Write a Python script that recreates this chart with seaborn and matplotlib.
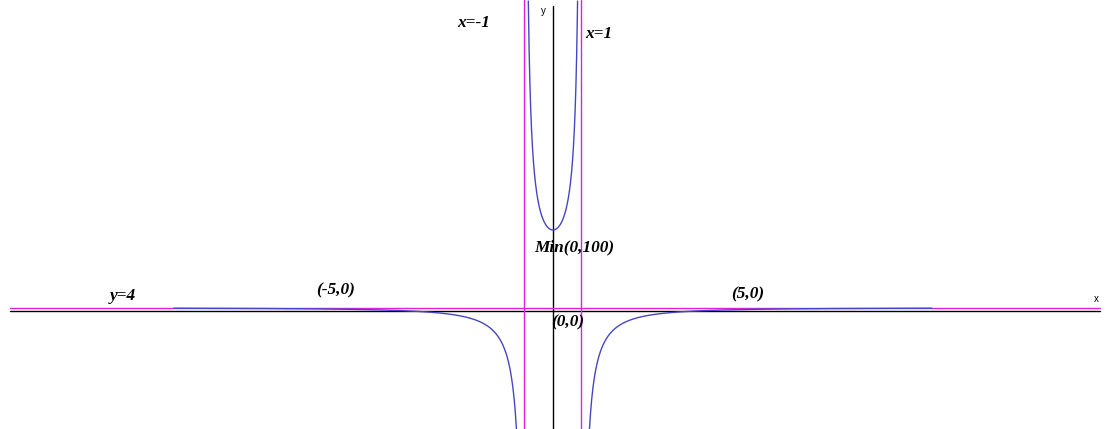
"""
Graph of f(x) = (4x^2 - 100) / (x^2 - 1) with its asymptotes and key points.
"""
import numpy as np
import pandas as pd
import matplotlib
matplotlib.use("Agg")
import matplotlib.pyplot as plt
import seaborn as sns

# Rational function: zeros at +-5, asymptotes x=+-1, y=4
num_coef = [4, 0, -100]
den_coef = [1, 0, -1]

# Asymptotes
vert_asym = [-1, 1]
horiz_asym = [4]

# Plotted domain of each branch (where the curve leaves the window)
branch_ranges = [(-13.3, -1.28), (-0.864, 0.864), (1.28, 13.3)]

# Labels: text, x, y (data units)
label_text = ['x=-1', 'x=1', 'Min(0,100)', '(0,0)', 'y=4', '(-5,0)', '(5,0)']
label_x = [-3.35, 1.12, -0.65, -0.05, -15.55, -8.3, 6.25]
label_y = [355, 342, 78, -14, 18, 25, 21]

xlim = (-19.40, 19.58)
ylim = (-145.7, 384.0)

curve_color = '#4646c4'
asym_color = '#e020e0'

sns.set_theme(style='white')
plt.rcParams['font.family'] = ['Liberation Serif', 'DejaVu Serif']

fig = plt.figure(figsize=(11.11, 4.29), dpi=100)
ax = fig.add_axes([0, 0, 1, 1])
ax.set_xlim(*xlim)
ax.set_ylim(*ylim)
ax.axis('off')

# axes lines
ax.plot([-19.05, 19.2], [0, 0], color='black', lw=1.0, zorder=2)
ax.plot([0, 0], [ylim[0], 376], color='black', lw=1.0, zorder=2)
ax.text(-0.35, 370, 'y', family='Liberation Sans', fontsize=7, color='black',
        ha='center', va='center')
ax.text(19.05, 15, 'x', family='Liberation Sans', fontsize=7, color='black',
        ha='center', va='center')

# asymptotes
for xv in vert_asym:
    ax.plot([xv, xv], ylim, color=asym_color, lw=1.0, zorder=3)
for yv in horiz_asym:
    ax.plot([-19.05, 19.2], [yv, yv], color=asym_color, lw=1.0, zorder=3)

# curve branches
frames = []
for i, (a, b) in enumerate(branch_ranges):
    xs = np.linspace(a, b, 600)
    ys = np.polyval(num_coef, xs) / np.polyval(den_coef, xs)
    frames.append(pd.DataFrame({'x': xs, 'y': ys, 'branch': i}))
df = pd.concat(frames)
for i, g in df.groupby('branch'):
    sns.lineplot(data=g, x='x', y='y', sort=False, color=curve_color,
                 lw=1.0, ax=ax, zorder=4, legend=False)

for t, x, y in zip(label_text, label_x, label_y):
    ax.text(x, y, t, fontsize=12.4, fontweight='bold', fontstyle='italic',
            color='black', ha='left', va='center')

plt.savefig('out.png', dpi=100)
plt.close()
